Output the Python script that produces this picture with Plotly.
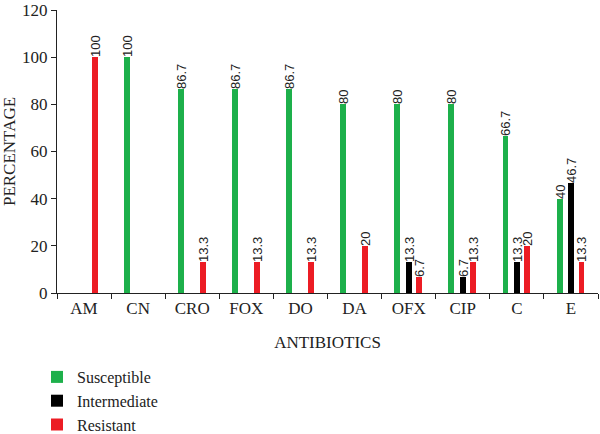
import plotly.graph_objects as go

antibiotics = ["AM", "CN", "CRO", "FOX", "DO", "DA", "OFX", "CIP", "C", "E"]
susceptible = [0, 100, 86.7, 86.7, 86.7, 80, 80, 80, 66.7, 40]
intermediate = [0, 0, 0, 0, 0, 0, 13.3, 6.7, 13.3, 46.7]
resistant = [100, 0, 13.3, 13.3, 13.3, 20, 6.7, 13.3, 20, 13.3]

series = [
    ("Susceptible", susceptible, "#1DB04B", -0.21),
    ("Intermediate", intermediate, "#000000", 0.0),
    ("Resistant", resistant, "#EC1C24", 0.195),
]

W = 0.11
fig = go.Figure()
for name, vals, color, off in series:
    txt = [("%g" % v) if v > 0 else "" for v in vals]
    fig.add_trace(go.Bar(
        x=antibiotics, y=vals, name=name, marker_color=color,
        marker_line_width=0,
        width=W, offset=off - W / 2,
        text=txt, textposition="outside", textangle=-90,
        constraintext="none", cliponaxis=False,
        textfont=dict(family="Liberation Sans", size=13, color="#222"),
        legendgroup=name,
    ))

fig.update_layout(
    width=600, height=434,
    margin=dict(l=57, r=2, t=10, b=141, autoexpand=False),
    plot_bgcolor="white", paper_bgcolor="white",
    font=dict(family="Liberation Serif", color="#222", size=17),
    showlegend=True,
    legend=dict(x=-0.037, y=0.1705, xref="paper", yref="container",
                xanchor="left", yanchor="top",
                orientation="v", tracegroupgap=0,
                font=dict(size=16, family="Liberation Serif"),
                itemwidth=30),
    bargap=0,
)
fig.update_xaxes(
    showline=True, linecolor="#222", linewidth=1,
    ticks="outside", tickson="boundaries", ticklen=5, tickcolor="#222",
    title=dict(text="ANTIBIOTICS", standoff=18, font=dict(size=17)),
    tickfont=dict(size=17), showgrid=False, tickangle=0,
)
fig.update_yaxes(
    range=[0, 120], dtick=20, showline=True, linecolor="#222", linewidth=1,
    ticks="outside", ticklen=5, tickcolor="#222",
    title=dict(text="PERCENTAGE", standoff=6, font=dict(size=17)),
    tickfont=dict(size=17), showgrid=False, zeroline=False,
)

fig.write_html("out.html")
